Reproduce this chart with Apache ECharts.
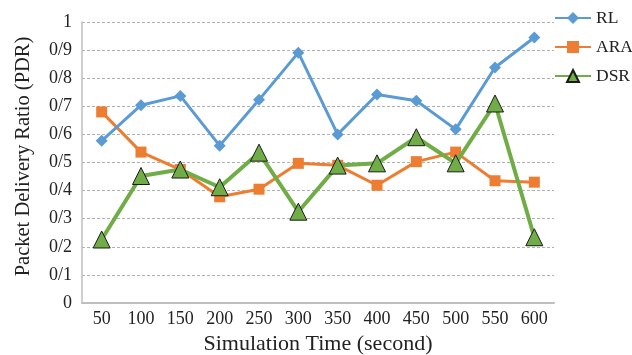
<!DOCTYPE html>
<html>
<head>
<meta charset="utf-8">
<script src="https://cdn.jsdelivr.net/npm/echarts@6/dist/echarts.min.js"></script>
<style>
  html, body { margin: 0; padding: 0; background: #fff; }
  #chart { width: 632px; height: 355px; }
</style>
</head>
<body>
<div id="chart"></div>
<script>
const categories = ['50', '100', '150', '200', '250', '300', '350', '400', '450', '500', '550', '600'];
const rl  = [0.577, 0.704, 0.737, 0.560, 0.723, 0.891, 0.600, 0.742, 0.720, 0.618, 0.838, 0.945];
const ara = [0.680, 0.537, 0.475, 0.378, 0.405, 0.497, 0.490, 0.419, 0.503, 0.537, 0.435, 0.430];
const dsr = [0.226, 0.452, 0.475, 0.412, 0.535, 0.325, 0.489, 0.497, 0.590, 0.497, 0.710, 0.234];
const yTickLabels = ['0', '0/1', '0/2', '0/3', '0/4', '0/5', '0/6', '0/7', '0/8', '0/9', '1'];

const font = 'Liberation Serif';
const chart = echarts.init(document.getElementById('chart'));

chart.setOption({
  animation: false,
  textStyle: { fontFamily: font },
  legend: {
    orient: 'vertical',
    left: 549,
    top: 4,
    itemGap: 11,
    itemWidth: 36,
    itemHeight: 15,
    textStyle: { fontFamily: font, fontSize: 17.5, color: '#222' },
    data: ['RL', 'ARA', 'DSR']
  },
  grid: { left: 82, right: 78, top: 22, bottom: 52, outerBoundsMode: 'none', containLabel: false },
  xAxis: {
    type: 'category',
    data: categories,
    name: 'Simulation Time (second)',
    nameLocation: 'middle',
    nameGap: 29,
    nameTextStyle: { fontFamily: font, fontSize: 22, color: '#222' },
    axisTick: { show: false },
    axisLine: { lineStyle: { color: '#bfbfbf', width: 2 } },
    axisLabel: { fontFamily: font, fontSize: 18, color: '#222', margin: 7 }
  },
  yAxis: {
    type: 'value',
    min: 0,
    max: 1,
    interval: 0.1,
    name: 'Packet Delivery Ratio (PDR)',
    nameLocation: 'middle',
    nameGap: 48,
    nameTextStyle: { fontFamily: font, fontSize: 20.5, color: '#222', padding: [0, 0, 0, 12] },
    axisTick: { show: false },
    axisLine: { show: true, lineStyle: { color: '#bfbfbf', width: 1.5 } },
    axisLabel: {
      fontFamily: font, fontSize: 18, color: '#222', margin: 10,
      formatter: v => yTickLabels[Math.round(v * 10)]
    },
    splitLine: { lineStyle: { color: '#b0b0b0', type: [3, 2], width: 1 } }
  },
  series: [
    {
      name: 'RL', type: 'line', data: rl,
      symbol: 'diamond', symbolSize: 12,
      lineStyle: { color: '#5b9bd5', width: 3 },
      itemStyle: { color: '#5b9bd5' },
      z: 3
    },
    {
      name: 'ARA', type: 'line', data: ara,
      symbol: 'rect', symbolSize: 11,
      lineStyle: { color: '#ed7d31', width: 3 },
      itemStyle: { color: '#ed7d31' },
      z: 2
    },
    {
      name: 'DSR', type: 'line', data: dsr,
      symbol: 'triangle', symbolSize: 17,
      lineStyle: { color: '#70ad47', width: 4 },
      itemStyle: { color: '#70ad47', borderColor: '#1a1a1a', borderWidth: 1 },
      z: 4
    }
  ]
});
</script>
</body>
</html>
